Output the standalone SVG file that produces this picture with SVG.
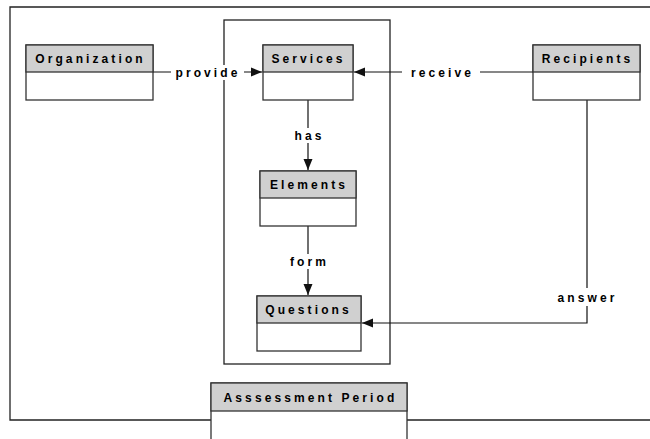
<svg xmlns="http://www.w3.org/2000/svg" width="650" height="439" viewBox="0 0 650 439">
  <style>
    .frame { fill: none; stroke: #222; stroke-width: 1.3; }
    .box { fill: #fff; stroke: #333; stroke-width: 1.3; }
    .head { fill: #d0d0d0; stroke: #333; stroke-width: 1.3; }
    .title { font-family: "Liberation Sans", Arial, sans-serif; font-size: 12px; font-weight: bold; letter-spacing: 3.1px; fill: #000; text-anchor: middle; }
    .edge { fill: none; stroke: #111; stroke-width: 1.2; }
    .lblbg { fill: #fff; stroke: none; }
  </style>
  <defs>
    <marker id="arrow" markerUnits="userSpaceOnUse" markerWidth="12" markerHeight="10" refX="11" refY="5" orient="auto">
      <path d="M0,0.5 L11,5 L0,9.5 Z" fill="#111"/>
    </marker>
  </defs>

  <rect width="650" height="439" fill="#fff"/>

  <!-- outer boundary (open to the right) -->
  <path class="frame" d="M660,7 H10 V420 H660"/>
  <!-- inner boundary -->
  <rect class="frame" x="224" y="20" width="166" height="344"/>

  <g id="connectors">
    <line class="edge" x1="153" y1="72" x2="262" y2="72" marker-end="url(#arrow)"/>
    <line class="edge" x1="533" y1="72" x2="354" y2="72" marker-end="url(#arrow)"/>
    <line class="edge" x1="308" y1="100" x2="308" y2="170" marker-end="url(#arrow)"/>
    <line class="edge" x1="308" y1="226" x2="308" y2="295" marker-end="url(#arrow)"/>
    <path class="edge" d="M587,100 V323 H362" marker-end="url(#arrow)"/>

    <rect class="lblbg" x="171" y="65" width="73" height="15"/>
    <text class="title" x="208" y="76.5">provide</text>
    <rect class="lblbg" x="402" y="65" width="78" height="15"/>
    <text class="title" x="442.5" y="76.5">receive</text>
    <rect class="lblbg" x="290" y="128" width="36" height="15"/>
    <text class="title" x="309.5" y="139.5">has</text>
    <rect class="lblbg" x="286" y="254" width="44" height="15"/>
    <text class="title" x="309.5" y="265.5">form</text>
    <rect class="lblbg" x="550" y="288" width="74" height="18"/>
    <text class="title" x="587.5" y="301.5">answer</text>
  </g>

  <g id="organization">
    <rect class="box" x="26" y="45" width="127" height="55"/>
    <rect class="head" x="26" y="45" width="127" height="27"/>
    <text class="title" x="90.5" y="63">Organization</text>
  </g>

  <g id="services">
    <rect class="box" x="263" y="45" width="90" height="55"/>
    <rect class="head" x="263" y="45" width="90" height="27"/>
    <text class="title" x="308.5" y="63">Services</text>
  </g>

  <g id="recipients">
    <rect class="box" x="533" y="45" width="107" height="55"/>
    <rect class="head" x="533" y="45" width="107" height="27"/>
    <text class="title" x="587.5" y="63">Recipients</text>
  </g>

  <g id="elements">
    <rect class="box" x="260" y="171" width="96" height="55"/>
    <rect class="head" x="260" y="171" width="96" height="27"/>
    <text class="title" x="309" y="188.5">Elements</text>
  </g>

  <g id="questions">
    <rect class="box" x="257" y="296" width="104" height="55"/>
    <rect class="head" x="257" y="296" width="104" height="27"/>
    <text class="title" x="308.5" y="314">Questions</text>
  </g>

  <g id="assessment-period">
    <rect class="box" x="211" y="383" width="196" height="60"/>
    <rect class="head" x="211" y="383" width="196" height="28"/>
    <text class="title" x="310.5" y="401.5">Asssessment Period</text>
  </g>
</svg>
